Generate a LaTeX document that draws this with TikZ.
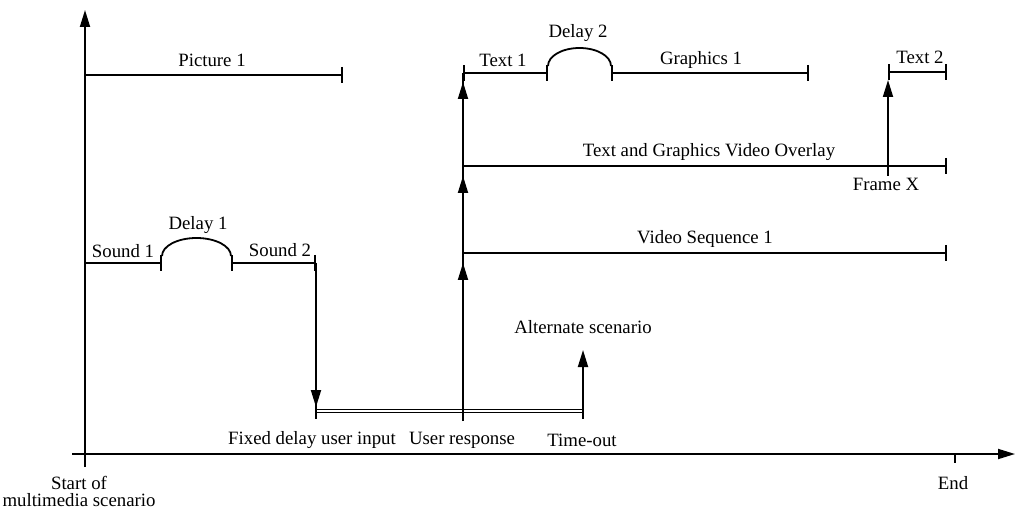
\documentclass[tikz,border=0pt]{standalone}
\usepackage{fontspec}
\setmainfont{Liberation Serif}
\usetikzlibrary{arrows.meta}
\begin{document}
\begin{tikzpicture}[x=1pt,y=-1pt,
  line width=1.8pt,
  lbl/.style={inner sep=0pt, font=\fontsize{18.8}{17}\selectfont, align=center},
  seg/.style={{Bar[width=16pt]}-{Bar[width=16pt]}},
  segend/.style={-{Bar[width=16pt]}},
  arr/.style={-{Triangle[length=17pt,width=10pt]}},
  hold/.style={double, double distance=1.3pt, line width=1.8pt}
]
\useasboundingbox (0,0) rectangle (1016,518);

% time axes
\coordinate (ytop) at (85,10);
\coordinate (ybot) at (85,467);
\coordinate (xl) at (72,454);
\coordinate (xr) at (1015,454);
\coordinate (endt) at (955,454);
\coordinate (endb) at (955,463);
\draw[arr] (ybot) -- (ytop);
\draw[arr] (xl) -- (xr);
\draw (endt) -- (endb);

% Picture 1
\coordinate (p1s) at (85,75);
\coordinate (p1e) at (343,75);
\draw[segend] (p1s) -- (p1e);

% Sound 1, Delay 1, Sound 2
\coordinate (s1s) at (85,263);
\coordinate (s1e) at (162,263);
\coordinate (d1s) at (162,256);
\coordinate (s2s) at (231,263);
\coordinate (s2e) at (316,263);
\draw[segend] (s1s) -- (s1e);
\draw (d1s) arc[start angle=180, end angle=0, x radius=34.5pt, y radius=18pt];
\draw[seg] (s2s) -- (s2e);

% waiting for user input
\coordinate (fdtip) at (316,407);
\coordinate (fd) at (316,411);
\coordinate (ur) at (463,411);
\coordinate (urb) at (463,421);
\coordinate (to) at (583,411);
\coordinate (alt) at (583,350);
\draw[arr] (s2e) -- (fdtip);
\draw[hold] (fd) -- (to);
\draw ([yshift=8pt]fd) -- ([yshift=-8pt]fd);
\draw ([yshift=8pt]to) -- ([yshift=-8pt]to);
\draw[arr] (to) -- (alt);

% user response branch
\coordinate (vs) at (463,253);
\coordinate (vse) at (947,253);
\coordinate (ov) at (463,166);
\coordinate (ove) at (947,166);
\coordinate (t1s) at (463,73);
\coordinate (t1e) at (548,73);
\coordinate (d2s) at (548,66);
\coordinate (g1s) at (611,73);
\coordinate (g1e) at (809,73);
\coordinate (a1) at (463,263);
\coordinate (a2) at (463,176);
\coordinate (a3) at (463,82);
\draw (urb) -- (t1s);
\draw[arr] (ur) -- (a1);
\draw[arr] (vs) -- (a2);
\draw[arr] (ov) -- (a3);
\draw[segend] (vs) -- (vse);
\draw[segend] (ov) -- (ove);
\draw[seg] (t1s) -- (t1e);
\draw (d2s) arc[start angle=180, end angle=0, x radius=31.5pt, y radius=18pt];
\draw[seg] (g1s) -- (g1e);

% Frame X and Text 2
\coordinate (fxb) at (888,176);
\coordinate (fxa) at (888,80);
\coordinate (t2s) at (888,72);
\coordinate (t2e) at (947,72);
\draw[arr] (fxb) -- (fxa);
\draw[seg] (t2s) -- (t2e);

% labels
\node[lbl] (lp1) at (212,60) {Picture 1};
\node[lbl] (lt1) at (503,60) {Text 1};
\node[lbl] (ld2) at (578,33) {Delay 2};
\node[lbl] (lg1) at (701,60) {Graphics 1};
\node[lbl] (lt2) at (920,57) {Text 2};
\node[lbl] (lov) at (709,152) {Text and Graphics Video Overlay};
\node[lbl] (lfx) at (886,184) {Frame X};
\node[lbl] (lvs) at (705,239) {Video Sequence 1};
\node[lbl] (ls1) at (123,251) {Sound 1};
\node[lbl] (ld1) at (198,225) {Delay 1};
\node[lbl] (ls2) at (280,250) {Sound 2};
\node[lbl] (lalt) at (583,327) {Alternate scenario};
\node[lbl] (lfd) at (312,440) {Fixed delay user input};
\node[lbl] (lur) at (462,440) {User response};
\node[lbl] (lto) at (582,440) {Time-out};
\node[lbl] (lst) at (79,491) {Start of\\multimedia scenario};
\node[lbl] (lend) at (953,483) {End};
\end{tikzpicture}
\end{document}
